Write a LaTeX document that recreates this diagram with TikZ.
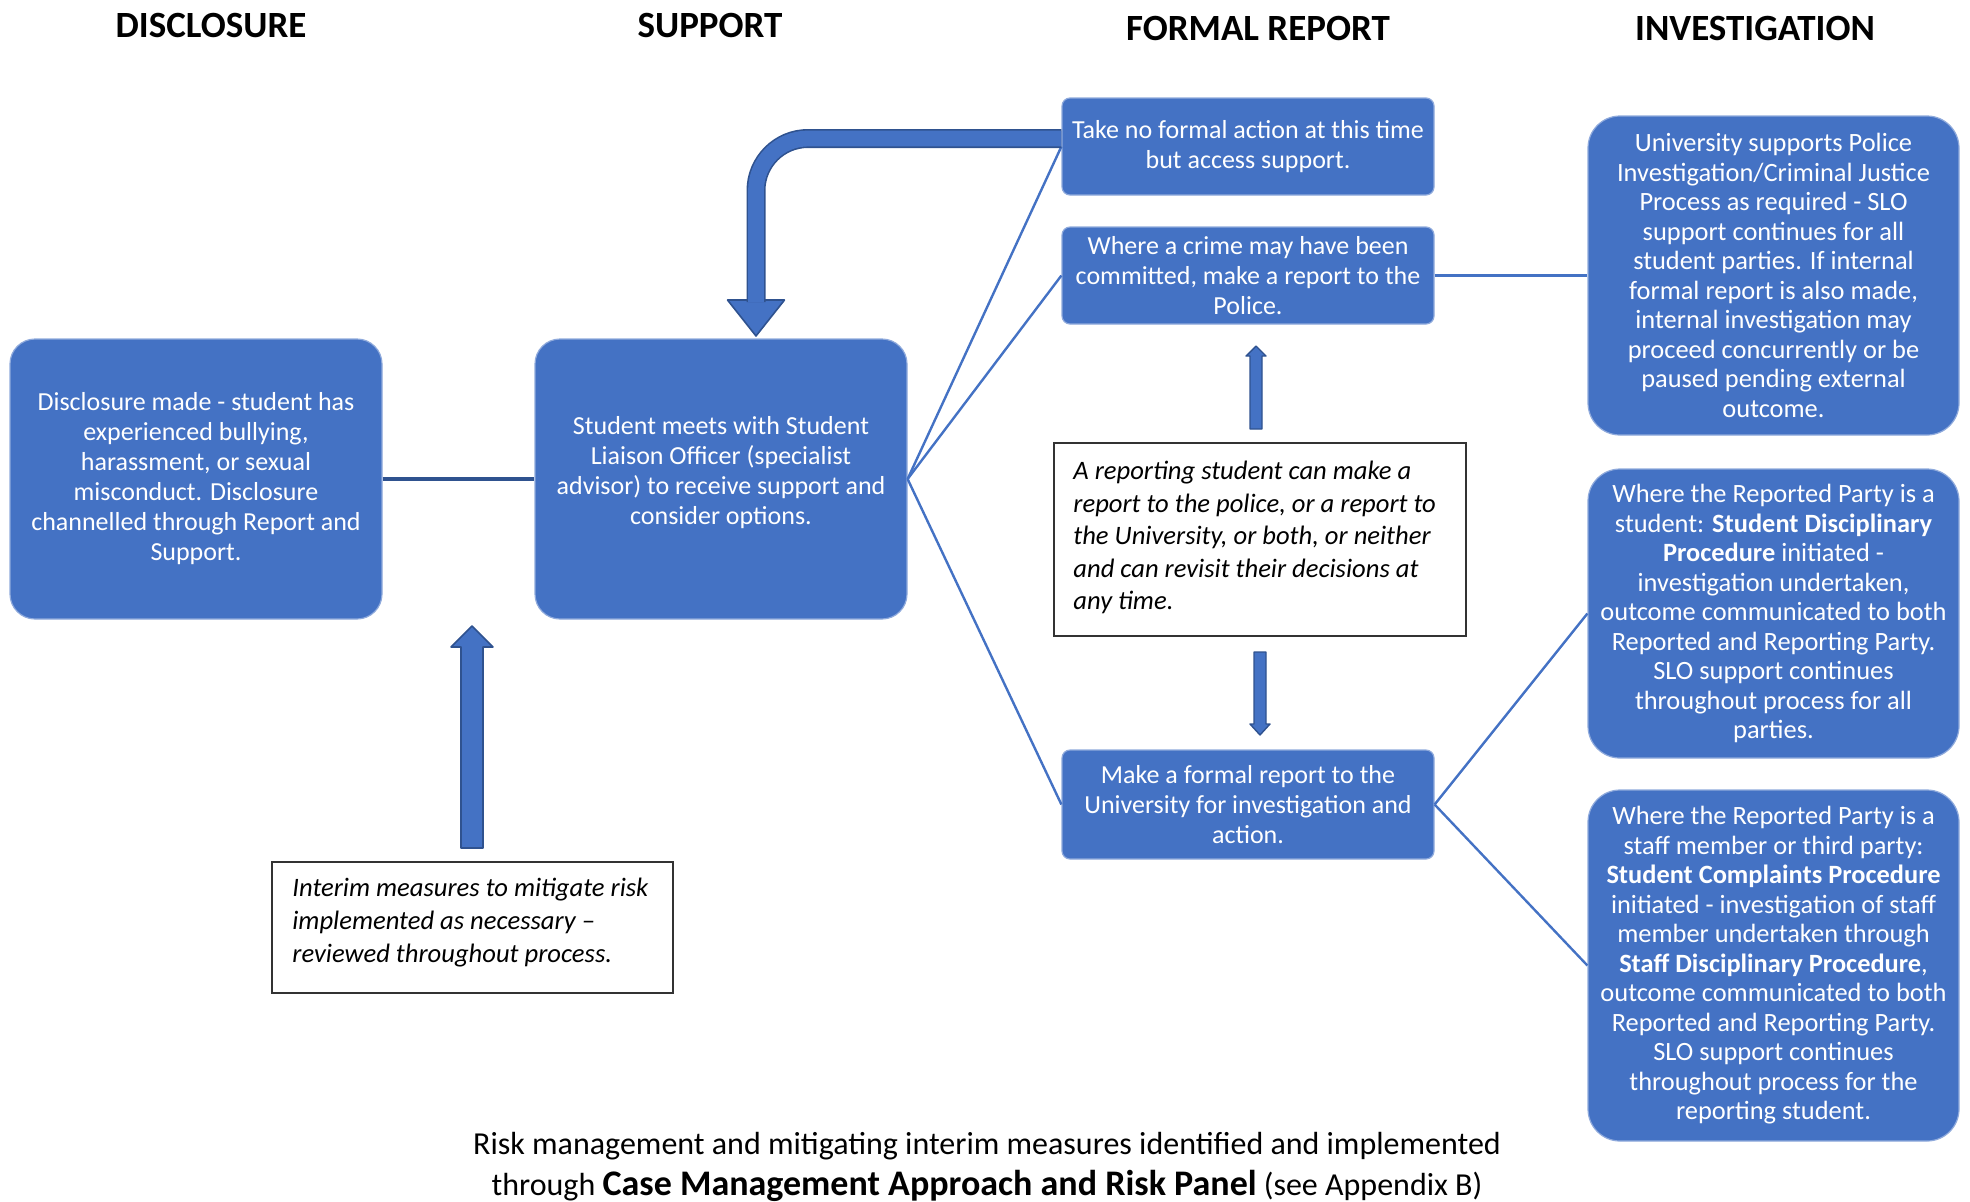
\documentclass[tikz,border=0pt]{standalone}
\usepackage{fontspec}
\setmainfont{Carlito}
\usetikzlibrary{calc}
\definecolor{bfill}{HTML}{4472C4}
\definecolor{bdark}{HTML}{2F528F}
\definecolor{bline}{HTML}{4472C4}
\begin{document}
\begin{tikzpicture}[x=0.5pt,y=-0.5pt,
  bluebox/.style={fill=bfill, draw=bfill!60!white, line width=0.6pt, text=white, align=center, inner sep=2pt, font=\fontsize{13}{15}\selectfont},
  bigbox/.style={bluebox, rounded corners=12.5pt, minimum width=186pt, minimum height=140pt},
  midbox/.style={bluebox, rounded corners=4pt, minimum width=186pt},
  invbox/.style={bluebox, rounded corners=16pt, minimum width=185.5pt, font=\fontsize{13.2}{14.75}\selectfont},
  notebox/.style={draw=black!80, line width=1pt, fill=white},
  notetext/.style={align=left, inner sep=0pt, font=\fontsize{13.3}{16.3}\selectfont\itshape},
  header/.style={font=\fontsize{18.5}{22}\selectfont\bfseries},
  conn/.style={draw=bline, line width=1.2pt},
  blockarrow/.style={fill=bfill, draw=bdark, line width=0.8pt, line join=round}
]
\useasboundingbox (0,0) rectangle (1970,1201);

% headers
\node[header] (h1) at (211,25) {DISCLOSURE};
\node[header] (h2) at (710,25) {SUPPORT};
\node[header] (h3) at (1258,28) {FORMAL REPORT};
\node[header] (h4) at (1755,28) {INVESTIGATION};

% main boxes
\node[bigbox] (disc) at (196,479) {Disclosure made - student has\\experienced bullying,\\harassment, or sexual\\misconduct. Disclosure\\channelled through Report and\\Support.};
\node[bigbox] (supp) at (721,479) {};
\node[text=white, align=center, inner sep=0pt, font=\fontsize{13}{15}\selectfont] (supptext) at ([yshift=3pt]supp.center) {Student meets with Student\\Liaison Officer (specialist\\advisor) to receive support and\\consider options.};

\node[midbox, minimum height=48.5pt] (tnf) at (1248,146.5) {Take no formal action at this time\\but access support.};
\node[midbox, minimum height=48.5pt] (crime) at (1248,275.5) {Where a crime may have been\\committed, make a report to the\\Police.};
\node[midbox, minimum height=54.5pt] (formal) at (1248,804.5) {Make a formal report to the\\University for investigation and\\action.};

\node[invbox, minimum height=159.5pt] (pol) at (1773.5,275.5) {University supports Police\\Investigation/Criminal Justice\\Process as required - SLO\\support continues for all\\student parties. If internal\\formal report is also made,\\internal investigation may\\proceed concurrently or be\\paused pending external\\outcome.};
\node[invbox, minimum height=144.5pt] (stu) at (1773.5,613.5) {Where the Reported Party is a\\student: \textbf{Student Disciplinary}\\\textbf{Procedure} initiated -\\investigation undertaken,\\outcome communicated to both\\Reported and Reporting Party.\\SLO support continues\\throughout process for all\\parties.};
\node[invbox, minimum height=175.5pt] (stf) at (1773.5,965.5) {Where the Reported Party is a\\staff member or third party:\\\textbf{Student Complaints Procedure}\\initiated - investigation of staff\\member undertaken through\\\textbf{Staff Disciplinary Procedure},\\outcome communicated to both\\Reported and Reporting Party.\\SLO support continues\\throughout process for the\\reporting student.};

% note boxes
\node[notebox, minimum width=206pt, minimum height=96.5pt] (rep) at (1260,539.5) {};
\node[notetext, anchor=west] (reptext) at ([xshift=10pt,yshift=1pt]rep.west) {A reporting student can make a\\report to the police, or a report to\\the University, or both, or neither\\and can revisit their decisions at\\any time.};
\node[notebox, minimum width=200.5pt, minimum height=65.5pt] (intm) at (472.5,927.5) {};
\node[notetext, anchor=west] (intmtext) at ([xshift=10.5pt,yshift=2.5pt]intm.west) {Interim measures to mitigate risk\\implemented as necessary –\\reviewed throughout process.};

% connectors
\draw[conn, draw=bdark, line width=1.6pt] (disc.east) -- (supp.west);
\draw[conn] (supp.east) -- (tnf.west);
\draw[conn] (supp.east) -- (crime.west);
\draw[conn] (supp.east) -- (formal.west);
\draw[conn] (crime.east) -- (pol.west);
\draw[conn] (formal.east) -- (stu.west);
\draw[conn] (formal.east) -- (stf.west);

% curved block arrow from tnf to supp
\coordinate (ca0) at ([yshift=4pt]tnf.west);
\coordinate (ca1) at (756,138.5);
\coordinate (ca2) at (756,302);
\coordinate (catip) at (756,336);
\filldraw[blockarrow] (727.5,300) -- (784.5,300) -- (catip) -- cycle;
\draw[draw=bdark, line width=0.8pt, double=bfill, double distance=7.9pt, rounded corners=26pt] (ca0) -- (ca1) -- (ca2);

% interim up arrow
\filldraw[blockarrow] (461,848) -- (461,647) -- (451,647) -- (472,626) -- (493,647) -- (483,647) -- (483,848) -- cycle;

% small arrows from note box
\filldraw[blockarrow, line width=0.7pt] (1250,429) -- (1250,356) -- (1246,356) -- (1256,346) -- (1266,356) -- (1262,356) -- (1262,429) -- cycle;
\filldraw[blockarrow, line width=0.7pt] (1254,652) -- (1254,724) -- (1250,724) -- (1260,735) -- (1270,724) -- (1266,724) -- (1266,652) -- cycle;

% caption
\node[font=\fontsize{16}{20.5}\selectfont, align=center] (cap) at (987,1167) {Risk management and mitigating interim measures identified and implemented\\through {\fontsize{18}{20.5}\selectfont\bfseries Case Management Approach and Risk Panel} (see Appendix B)};
\end{tikzpicture}
\end{document}
